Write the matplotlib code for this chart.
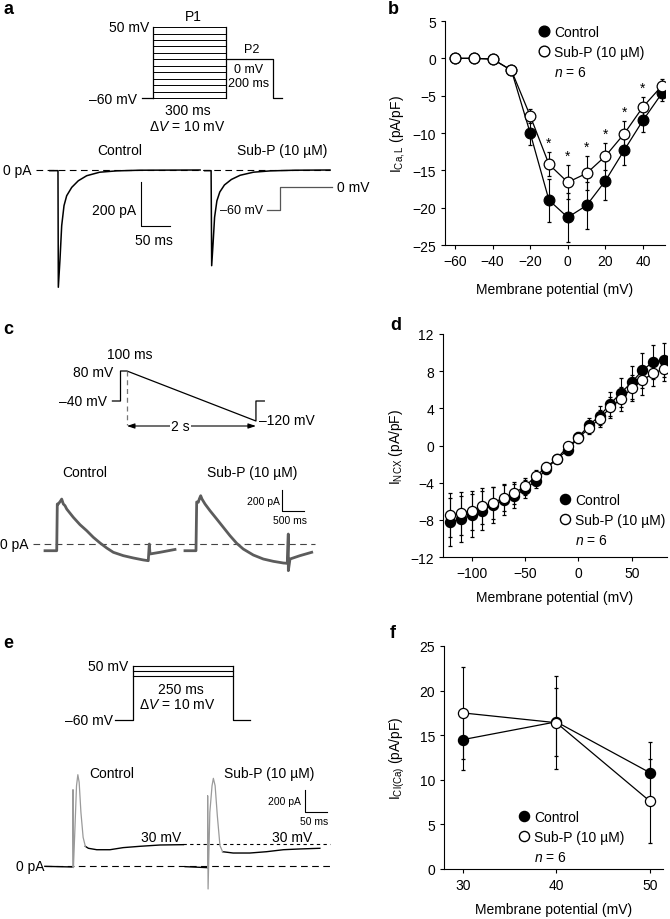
import matplotlib
matplotlib.use('Agg')
import matplotlib.pyplot as plt
from matplotlib.lines import Line2D

plt.rcParams['font.family'] = ['Liberation Sans', 'DejaVu Sans']
plt.rcParams['font.size'] = 10
plt.rcParams['mathtext.fontset'] = 'custom'
plt.rcParams['mathtext.rm'] = 'Liberation Sans'
plt.rcParams['mathtext.it'] = 'Liberation Sans:italic'
plt.rcParams['axes.linewidth'] = 0.8

# ---- b: L-type Ca current I-V ----
vm_b = [-60, -50, -40, -30, -20, -10, 0, 10, 20, 30, 40, 50]
ica_ctrl = [0, 0, -0.1, -1.6, -10.0, -19.0, -21.3, -19.7, -16.4, -12.3, -8.3, -4.7]
ica_ctrl_err = [0, 0, 0, 0.3, 1.6, 2.9, 3.3, 3.1, 2.6, 2.0, 1.5, 1.0]
ica_subp = [0, 0, -0.1, -1.6, -7.7, -14.2, -16.6, -15.4, -13.1, -10.1, -6.5, -3.7]
ica_subp_err = [0, 0, 0, 0.3, 0.9, 1.6, 2.3, 2.3, 1.8, 1.7, 1.3, 0.9]
sig_b = [-10, 0, 10, 20, 30, 40]

# ---- d: NCX current I-V ----
vm_d = [-120, -110, -100, -90, -80, -70, -60, -50, -40, -30, -20,
        -10, 0, 10, 20, 30, 40, 50, 60, 70, 80]
incx_ctrl = [-8.2, -7.9, -7.5, -7.0, -6.4, -5.9, -5.4, -4.7, -3.8, -2.5, -1.4,
             -0.5, 0.9, 2.2, 3.2, 4.5, 5.7, 6.8, 8.1, 9.0, 9.2]
incx_ctrl_err = [2.6, 2.5, 2.3, 2.1, 1.9, 1.6, 1.3, 1.0, 0.8, 0.6, 0.5,
                 0.5, 0.6, 0.8, 1.0, 1.3, 1.6, 1.8, 1.9, 1.8, 1.8]
incx_subp = [-7.5, -7.3, -7.0, -6.5, -6.2, -5.6, -5.1, -4.4, -3.3, -2.3, -1.4,
             -0.1, 0.8, 1.9, 2.9, 4.1, 5.0, 6.2, 7.0, 7.8, 8.2]
incx_subp_err = [2.4, 2.3, 2.1, 1.9, 1.7, 1.5, 1.2, 0.9, 0.7, 0.5, 0.4,
                 0.4, 0.5, 0.7, 0.9, 1.1, 1.3, 1.4, 1.6, 1.4, 1.3]

# ---- f: Ca-activated Cl current ----
vm_f = [30, 40, 50]
icl_ctrl = [14.5, 16.5, 10.8]
icl_ctrl_err = [3.4, 3.8, 3.4]
icl_subp = [17.5, 16.4, 7.6]
icl_subp_err = [5.2, 5.2, 4.7]

# ---- a: protocol (ms, mV) and traces (ms, pA) ----
prot_a_levels = [-60, -50, -40, -30, -20, -10, 0, 10, 20, 30, 40, 50]
prot_a_p1 = 300
prot_a_tail_t = [-46, 0]
prot_a_p2_t = [300, 495, 495, 530]
prot_a_p2_v = [0, 0, -60, -60]
inset_a_t = [0, 22, 22, 112]
inset_a_v = [-60, -60, 0, 0]
trace_a_ctrl_t = [17, 31, 31.6, 34.5, 37.4, 41.4, 46, 54.7, 66, 80.5, 103, 132,
                  172, 276]
trace_a_ctrl_i = [-3, -3, -533, -405, -253, -162, -117, -79, -49, -26, -10, -4,
                  -1, 0]
trace_a_subp_t = [284, 295, 296, 298.5, 301, 305, 310, 318, 330, 345, 368, 397,
                  440, 500]
trace_a_subp_i = [-3, -3, -435, -330, -215, -140, -100, -68, -43, -24, -10, -4,
                  -1, 0]

# ---- c: ramp protocol and traces ----
prot_c_t = [-125, 0, 0, 100, 2100, 2100, 2230]
prot_c_v = [-40, -40, 80, 80, -120, -40, -40]
trace_c_ctrl_t = [114, 380, 393, 416, 470, 493, 530, 568, 607, 757, 909, 1061,
                  1211, 1364, 1516, 1666, 1893, 2120, 2348, 2461, 2484, 2500,
                  2727, 3068]
trace_c_ctrl_i = [-64, -64, 381, 381, 412, 428, 381, 365, 333, 254, 184, 127,
                  64, 10, -38, -79, -111, -133, -152, -159, 0, -95,
                  -79, -52]
trace_c_subp_t = [3295, 3545, 3561, 3598, 3620, 3652, 3682, 3750, 3864, 4016,
                  4166, 4318, 4470, 4620, 4848, 5075, 5302, 5530, 5620, 5643,
                  5644, 5682, 5909, 6175]
trace_c_subp_i = [-64, -64, 400, 397, 428, 460, 428, 381, 317, 238,
                  159, 79, 7, -48, -105, -143, -165, -181, -184, 95,
                  -254, -143, -111, -79]

# ---- e: step protocol and traces ----
prot_e_levels = [30, 40, 50]
prot_e_dur = 250
trace_e_ctrl_base_t = [11, 75]
trace_e_ctrl_base_i = [-3, -9]
trace_e_ctrl_peak_t = [75, 75, 76, 79, 83, 86, 89, 93, 98, 103]
trace_e_ctrl_peak_i = [-9, 694, -15, 300, 730, 830, 761, 488, 261, 179]
trace_e_ctrl_late_t = [103, 110, 129, 159, 189, 227, 273, 326]
trace_e_ctrl_late_i = [179, 161, 148, 148, 167, 179, 191, 194]
trace_e_subp_base_t = [330, 381]
trace_e_subp_base_i = [-6, -15]
trace_e_subp_peak_t = [381, 381, 382, 386, 391, 394, 398, 403, 409, 415]
trace_e_subp_peak_i = [-15, 639, -209, 488, 730, 797, 730, 458, 185, 130]
trace_e_subp_late_t = [415, 439, 477, 515, 553, 591, 636]
trace_e_subp_late_i = [130, 118, 118, 130, 148, 155, 161]

W, H = 670, 920
fig = plt.figure(figsize=(6.7, 9.2), dpi=100)


def rect(x0, y0, x1, y1):
    return [x0 / W, 1 - y1 / H, (x1 - x0) / W, (y1 - y0) / H]


def canvas(box, origin, scale):
    # axes without frame; data (0, 0) sits at pixel `origin`
    x0, y0, x1, y1 = box
    ox, oy = origin
    sx, sy = scale
    ax = fig.add_axes(rect(x0, y0, x1, y1))
    ax.set_xlim((x0 - ox) / sx, (x1 - ox) / sx)
    ax.set_ylim((oy - y1) / sy, (oy - y0) / sy)
    ax.axis('off')
    return ax


def iv_panel(box, vm, c, ce, s, se, ms):
    ax = fig.add_axes(rect(*box))
    kw = dict(fmt='-o', color='k', mec='k', ms=ms, lw=0.9, elinewidth=0.8,
              capsize=1.5, capthick=0.8, mew=0.9)
    ax.errorbar(vm, c, yerr=ce, mfc='k', zorder=2, **kw)
    ax.errorbar(vm, s, yerr=se, mfc='white', zorder=3, **kw)
    ax.spines[['top', 'right']].set_visible(False)
    ax.tick_params(direction='out', length=3, width=0.8, labelsize=10)
    return ax


def legend(ax, x, y, ms):
    h1 = Line2D([], [], ls='none', marker='o', mfc='k', mec='k', ms=ms)
    h2 = Line2D([], [], ls='none', marker='o', mfc='white', mec='k', ms=ms)
    h3 = Line2D([], [], ls='none')
    ax.legend([h1, h2, h3], ['Control', 'Sub-P (10 µM)', '$n$ = 6'],
              loc='upper left', bbox_to_anchor=(x / W, 1 - y / H),
              bbox_transform=fig.transFigure, frameon=False, fontsize=10,
              handlelength=0.8, handletextpad=0.35, labelspacing=0.42,
              borderpad=0, borderaxespad=0)


# ===== panel b =====
ax = iv_panel((445, 22, 665, 246), vm_b, ica_ctrl, ica_ctrl_err,
              ica_subp, ica_subp_err, 7.7)
ax.set_xlim(-65.3, 51.7)
ax.set_ylim(-25, 5)
ax.set_xticks([-60, -40, -20, 0, 20, 40])
ax.set_yticks([5, 0, -5, -10, -15, -20, -25])
ax.set_xlabel('Membrane potential (mV)', fontsize=10, labelpad=10)
ax.set_ylabel(r'I$_{\mathrm{Ca,L}}$ (pA/pF)', fontsize=10)
for v in sig_b:
    k = vm_b.index(v)
    ax.text(v, ica_subp[k] + ica_subp_err[k] + 0.3, '*', ha='center',
            va='bottom', fontsize=10)
legend(ax, 538, 26, 7.7)

# ===== panel d =====
ax = iv_panel((443, 335, 667, 558), vm_d, incx_ctrl, incx_ctrl_err,
              incx_subp, incx_subp_err, 7.3)
ax.set_xlim(-127, 83)
ax.set_ylim(-12, 12)
ax.set_xticks([-100, -50, 0, 50])
ax.set_yticks([-12, -8, -4, 0, 4, 8, 12])
ax.set_xlabel('Membrane potential (mV)', fontsize=10, labelpad=7)
ax.set_ylabel(r'I$_{\mathrm{NCX}}$ (pA/pF)', fontsize=10)
legend(ax, 559, 494, 7.3)

# ===== panel f =====
ax = iv_panel((444, 647, 663, 870), vm_f, icl_ctrl, icl_ctrl_err,
              icl_subp, icl_subp_err, 7.3)
ax.set_xlim(28, 51.4)
ax.set_ylim(0, 25)
ax.set_xticks([30, 40, 50])
ax.set_yticks([0, 5, 10, 15, 20, 25])
ax.set_xlabel('Membrane potential (mV)', fontsize=10, labelpad=7)
ax.set_ylabel(r'I$_{\mathrm{Cl(Ca)}}$ (pA/pF)', fontsize=10, labelpad=9)
legend(ax, 518, 811, 7.3)

lw = 0.9

# ===== panel a: protocol =====
ax = canvas((100, 5, 335, 135), (153, 60.3), (0.243, 0.645))
for v in prot_a_levels:
    ax.plot([0, prot_a_p1], [v, v], color='k', lw=0.7)
for t in (0, prot_a_p1):
    ax.plot([t, t], [prot_a_levels[0], prot_a_levels[-1]], color='k', lw=lw)
ax.plot(prot_a_tail_t, [-60, -60], color='k', lw=lw)
ax.plot(prot_a_p2_t, prot_a_p2_v, color='k', lw=lw)
ax.text(165, 67, 'P1', ha='center', va='center')
ax.text(-16, 50, '50 mV', ha='right', va='center')
ax.text(-66, -61, '–60 mV', ha='right', va='center')
ax.text(407, 16, 'P2', ha='center', va='center', fontsize=9)
ax.text(395, -15, '0 mV', ha='center', va='center', fontsize=9)
ax.text(395, -36, '200 ms', ha='center', va='center', fontsize=9)
ax.text(144, -79, '300 ms', ha='center', va='center')
ax.text(140, -103, 'Δ$V$ = 10 mV', ha='center', va='center')

# ===== panel a: traces =====
ax = canvas((0, 140, 335, 300), (40, 171), (0.58, 0.22))
ax.plot([-7, 500], [0, 0], color='k', lw=0.8, ls=(0, (6, 4)))
ax.plot(trace_a_ctrl_t, trace_a_ctrl_i, color='k', lw=1.1)
ax.plot(trace_a_subp_t, trace_a_subp_i, color='k', lw=1.1)
ax.plot([174, 174, 224], [-55, -255, -255], color='k', lw=0.8)
ax.text(-14, 0, '0 pA', ha='right', va='center')
ax.text(166, -182, '200 pA', ha='right', va='center')
ax.text(197, -318, '50 ms', ha='center', va='center')
ax.text(137, 91, 'Control', ha='center', va='center')
ax.text(417, 91, 'Sub-P (10 µM)', ha='center', va='center')

ax = canvas((240, 180, 345, 220), (267, 188), (0.58, 0.383))
ax.plot(inset_a_t, inset_a_v, color='#555555', lw=0.9)
ax.text(-7, -60, '–60 mV', ha='right', va='center', fontsize=9)
ax.text(121, 0, '0 mV', ha='left', va='center')

# ===== panel c: protocol =====
ax = canvas((60, 340, 335, 440), (120.5, 392), (0.0645, 0.25))
ax.plot(prot_c_t, prot_c_v, color='k', lw=lw)
ax.plot([100, 100], [80, -135], color='#777777', lw=0.9, ls=(0, (4, 3)))
ax.annotate('', xy=(2100, -140), xytext=(100, -140),
            arrowprops=dict(arrowstyle='<|-|>,head_length=0.45,head_width=0.15',
                            color='k', lw=0.8, shrinkA=0, shrinkB=0))
ax.text(930, -140, '2 s', ha='center', va='center',
        bbox=dict(facecolor='white', edgecolor='none', pad=1))
ax.text(147, 148, '100 ms', ha='center', va='center')
ax.text(-116, 74, '80 mV', ha='right', va='center')
ax.text(-209, -40, '–40 mV', ha='right', va='center')
ax.text(2147, -118, '–120 mV', ha='left', va='center')

# ===== panel c: traces =====
ax = canvas((0, 460, 335, 585), (40, 545), (0.044, 0.105))
ax.plot([-159, 6250], [0, 0], color='#444444', lw=0.8, ls=(0, (6, 4)))
ax.plot(trace_c_ctrl_t, trace_c_ctrl_i, color='#5c5c5c', lw=2.0,
        solid_joinstyle='round')
ax.plot(trace_c_subp_t, trace_c_subp_i, color='#5c5c5c', lw=2.0,
        solid_joinstyle='round')
ax.plot([5493, 5493, 5993], [514, 314, 314], color='k', lw=0.8)
ax.text(-250, 0, '0 pA', ha='right', va='center')
ax.text(5455, 410, '200 pA', ha='right', va='center', fontsize=7.5)
ax.text(5682, 229, '500 ms', ha='center', va='center', fontsize=7.5)
ax.text(1023, 686, 'Control', ha='center', va='center')
ax.text(4818, 686, 'Sub-P (10 µM)', ha='center', va='center')

# ===== panel e: protocol =====
ax = canvas((60, 655, 335, 730), (133, 691.6), (0.4, 0.49))
for v in prot_e_levels:
    ax.plot([0, prot_e_dur], [v, v], color='k', lw=0.8)
ax.plot([-45, 0, 0], [-60, -60, prot_e_levels[-1]], color='k', lw=lw)
ax.plot([prot_e_dur, prot_e_dur, prot_e_dur + 43],
        [prot_e_levels[-1], -60, -60], color='k', lw=lw)
ax.text(-12.5, 50, '50 mV', ha='right', va='center')
ax.text(-50, -60, '–60 mV', ha='right', va='center')
ax.text(119, 3, '250 ms', ha='center', va='center')
ax.text(110, -27, 'Δ$V$ = 10 mV', ha='center', va='center')

# ===== panel e: traces =====
ax = canvas((0, 765, 335, 905), (40, 867), (0.44, 0.11))
ax.plot([11, 659], [0, 0], color='k', lw=0.8, ls=(0, (6, 4)))
ax.plot([325, 659], [200, 200], color='k', lw=0.8, ls=(0, (3, 3)))
for t, i in ((trace_e_ctrl_base_t, trace_e_ctrl_base_i),
             (trace_e_ctrl_late_t, trace_e_ctrl_late_i),
             (trace_e_subp_base_t, trace_e_subp_base_i),
             (trace_e_subp_late_t, trace_e_subp_late_i)):
    ax.plot(t, i, color='k', lw=1.0)
ax.plot(trace_e_ctrl_peak_t, trace_e_ctrl_peak_i, color='#9a9a9a', lw=0.9)
ax.plot(trace_e_subp_peak_t, trace_e_subp_peak_i, color='#9a9a9a', lw=0.9)
ax.plot([602, 602, 652], [691, 491, 491], color='k', lw=0.8)
ax.text(11, 0, '0 pA', ha='right', va='center')
ax.text(593, 591, '200 pA', ha='right', va='center', fontsize=7.5)
ax.text(623, 409, '50 ms', ha='center', va='center', fontsize=7.5)
ax.text(275, 264, '30 mV', ha='center', va='center')
ax.text(573, 264, '30 mV', ha='center', va='center')
ax.text(164, 845, 'Control', ha='center', va='center')
ax.text(522, 845, 'Sub-P (10 µM)', ha='center', va='center')

# panel letters
for letter, x, y in (('a', 8, 9), ('b', 393, 9), ('c', 8, 329),
                     ('d', 396, 326), ('e', 8, 643), ('f', 393, 634)):
    fig.text(x / W, 1 - y / H, letter, fontsize=13, fontweight='bold',
             ha='center', va='center')

fig.savefig('out.png', dpi=100)
